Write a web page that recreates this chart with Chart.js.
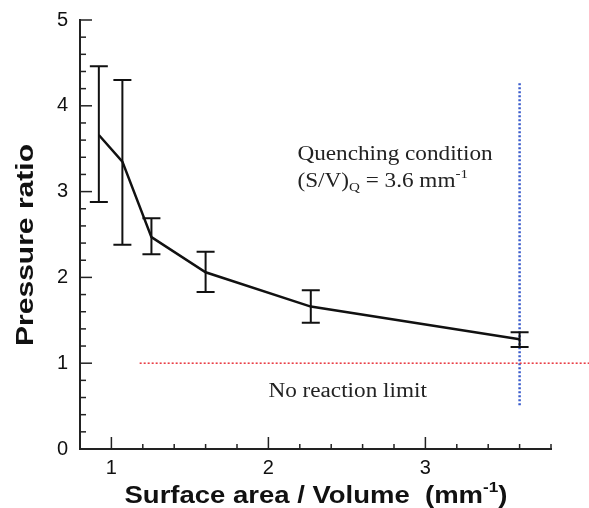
<!DOCTYPE html>
<html>
<head>
<meta charset="utf-8">
<script src="https://cdn.jsdelivr.net/npm/chart.js@4.4.1/dist/chart.umd.min.js"></script>
<style>
    html, body { margin: 0; padding: 0; background: #fff; }
    #wrap { width: 589px; height: 508px; }
</style>
</head>
<body>
<div id="wrap"><canvas id="ratio-chart"></canvas></div>
<script>
// surface-to-volume ratio (mm^-1) and measured pressure ratio
var sv = [0.92, 1.07, 1.255, 1.60, 2.27, 3.60];
var ratio = [3.66, 3.35, 2.47, 2.06, 1.66, 1.28];
var errLow = [2.88, 2.38, 2.27, 1.83, 1.47, 1.19];
var errHigh = [4.46, 4.30, 2.69, 2.30, 1.85, 1.36];

var xTicks = [1, 2, 3];
var yTicks = [0, 1, 2, 3, 4, 5];

var noReactionY = 1.0;
var quenchSV = 3.6;

var pts = sv.map(function (v, i) { return { x: v, y: ratio[i] }; });

var serif = '"Liberation Serif", "DejaVu Serif", serif';
var sans = '"Liberation Sans", Arial, sans-serif';

// draws a run of [text, font, dy] pieces, stretched horizontally by sx
function drawRun(ctx, parts, x, y, sx) {
    ctx.save();
    ctx.translate(x, y);
    ctx.scale(sx, 1);
    var off = 0;
    parts.forEach(function (p) {
        ctx.font = p[1];
        ctx.fillText(p[0], off, p[2] || 0);
        off += ctx.measureText(p[0]).width;
    });
    ctx.restore();
    return off * sx;
}

function runWidth(ctx, parts) {
    var w = 0;
    parts.forEach(function (p) {
        ctx.font = p[1];
        w += ctx.measureText(p[0]).width;
    });
    return w;
}

// error bars, inward ticks, notes and axis titles
var extras = {
    id: 'extras',
    afterDatasetsDraw: function (chart) {
        var ctx = chart.ctx;
        var xs = chart.scales.x, ys = chart.scales.y;
        ctx.save();
        ctx.strokeStyle = '#111';
        ctx.lineWidth = 2;
        sv.forEach(function (v, i) {
            var px = xs.getPixelForValue(v);
            var lo = ys.getPixelForValue(errLow[i]);
            var hi = ys.getPixelForValue(errHigh[i]);
            ctx.beginPath();
            ctx.moveTo(px, lo); ctx.lineTo(px, hi);
            ctx.moveTo(px - 9, lo); ctx.lineTo(px + 9, lo);
            ctx.moveTo(px - 9, hi); ctx.lineTo(px + 9, hi);
            ctx.stroke();
        });

        // ticks pointing into the plot
        ctx.lineWidth = 1.5;
        ctx.strokeStyle = '#222';
        var bottom = ys.getPixelForValue(0);
        var left = xs.getPixelForValue(0.8);
        for (var k = 10; k <= 38; k += 2) {
            var major = (k % 10 === 0);
            var px = xs.getPixelForValue(k / 10);
            ctx.beginPath();
            ctx.moveTo(px, bottom);
            ctx.lineTo(px, bottom - (major ? 12 : 5));
            ctx.stroke();
        }
        for (var j = 1; j <= 25; j++) {
            var majorY = (j % 5 === 0);
            var py = ys.getPixelForValue(j / 5);
            ctx.beginPath();
            ctx.moveTo(left, py);
            ctx.lineTo(left + (majorY ? 12 : 6), py);
            ctx.stroke();
        }

        // notes
        ctx.fillStyle = '#222';
        ctx.textBaseline = 'alphabetic';
        ctx.textAlign = 'left';
        var f = '20px ' + serif, fs = '13px ' + serif;
        var tx = xs.getPixelForValue(2.185);
        drawRun(ctx, [['Quenching condition', f]], tx, ys.getPixelForValue(3.37), 1.16);
        drawRun(ctx, [['(S/V)', f], ['Q', fs, 4], [' = 3.6 mm', f], ['-1', fs, -9]],
            tx, ys.getPixelForValue(3.05), 1.16);
        drawRun(ctx, [['No reaction limit', f]], xs.getPixelForValue(2.0), ys.getPixelForValue(0.61), 1.16);

        // axis titles
        ctx.fillStyle = '#111';
        var tf = 'bold 24px ' + sans, tfs = 'bold 15px ' + sans;
        var xt = [['Surface area / Volume  (mm', tf], ['-1', tfs, -11], [')', tf]];
        var xsx = 383 / runWidth(ctx, xt);
        drawRun(ctx, xt, 316 - 383 / 2, 503, xsx);

        ctx.translate(33, 245);
        ctx.rotate(-Math.PI / 2);
        var yt = [['Pressure ratio', 'bold 23px ' + sans]];
        var ysx = 202 / runWidth(ctx, yt);
        drawRun(ctx, yt, -101, 0, ysx);
        ctx.restore();
    }
};

var chart = new Chart(document.getElementById('ratio-chart').getContext('2d'), {
    type: 'line',
    data: {
        datasets: [
            {
                data: pts,
                borderColor: '#111',
                borderWidth: 2.5,
                pointRadius: 0,
                tension: 0
            },
            {
                data: [{ x: 1.18, y: noReactionY }, { x: 4.05, y: noReactionY }],
                borderColor: '#e8343c',
                borderWidth: 1.5,
                borderDash: [2, 2],
                pointRadius: 0,
                clip: false
            },
            {
                data: [{ x: quenchSV, y: 0.51 }, { x: quenchSV, y: 4.28 }],
                borderColor: '#3a5ccc',
                borderWidth: 2.5,
                borderDash: [2, 2],
                pointRadius: 0
            }
        ]
    },
    options: {
        responsive: true,
        maintainAspectRatio: false,
        animation: false,
        layout: { padding: { left: 0, right: 38, top: 20, bottom: 0 } },
        plugins: { legend: { display: false }, tooltip: { enabled: false } },
        scales: {
            x: {
                type: 'linear',
                min: 0.8,
                max: 3.8,
                afterBuildTicks: function (scale) {
                    scale.ticks = xTicks.map(function (v) { return { value: v }; });
                },
                afterFit: function (scale) {
                    scale.height = 59;
                    scale.paddingLeft = 0;
                    scale.paddingRight = 0;
                },
                grid: { display: false, drawTicks: false },
                border: { display: true, color: '#222', width: 2 },
                ticks: {
                    padding: 7,
                    color: '#111',
                    font: { family: sans, size: 20 }
                }
            },
            y: {
                min: 0,
                max: 5,
                afterBuildTicks: function (scale) {
                    scale.ticks = yTicks.map(function (v) { return { value: v }; });
                },
                afterFit: function (scale) {
                    scale.width = 80;
                    scale.paddingTop = 0;
                    scale.paddingBottom = 0;
                },
                grid: { display: false, drawTicks: false },
                border: { display: true, color: '#222', width: 2 },
                ticks: {
                    padding: 12,
                    color: '#111',
                    font: { family: sans, size: 20 }
                }
            }
        }
    },
    plugins: [extras]
});
</script>
</body>
</html>
